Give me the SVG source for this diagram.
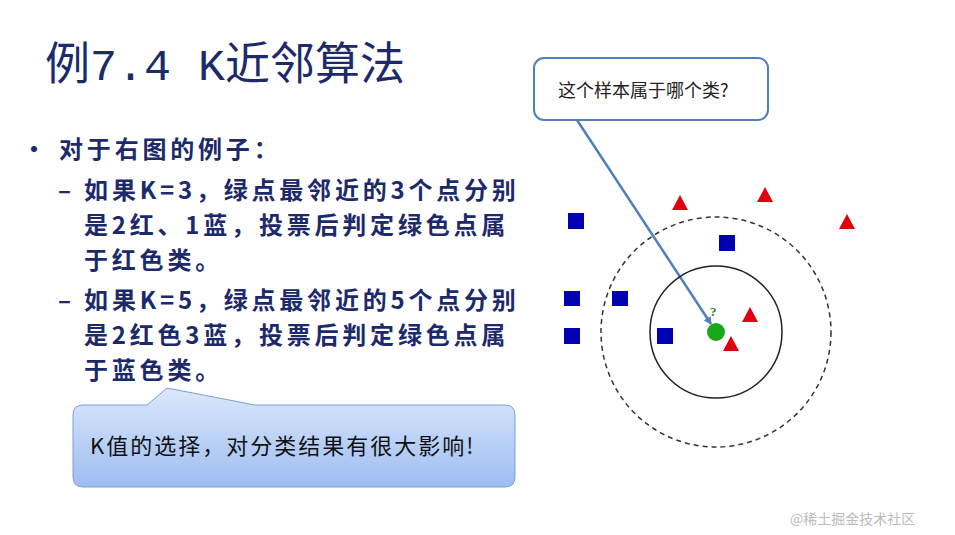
<svg xmlns="http://www.w3.org/2000/svg" width="955" height="535" viewBox="0 0 955 535">
<defs>
<linearGradient id="g" x1="0" y1="0" x2="0" y2="1"><stop offset="0" stop-color="#dce8fb"/><stop offset="1" stop-color="#9dbdf2"/></linearGradient>
<marker id="ah" markerWidth="8" markerHeight="8" refX="7" refY="4" orient="auto" markerUnits="userSpaceOnUse" viewBox="0 0 8 8"><path d="M0,0 L8,4 L0,8 z" fill="#4f7fbf"/></marker>
<style>
.t{font-family:"Noto Sans CJK SC","Liberation Sans",sans-serif;fill:#1c2a6b;font-weight:bold;font-size:24px;letter-spacing:3.8px}
.sq{fill:#0000b0}
.tr{fill:#e00010}
</style>
</defs>
<rect width="955" height="535" fill="#fff"/>
<text x="45" y="80" font-family="'Liberation Mono','Noto Sans CJK SC',monospace" font-size="45" fill="#1c2a6b">例7.4  K近邻算法</text>
<g id="bullets">
<text class="t" x="22" y="158" font-weight="normal">• 对于右图的例子：</text>
<text class="t" x="58" y="199">– 如果K=3，绿点最邻近的3个点分别</text>
<text class="t" x="84" y="234">是2红、1蓝，投票后判定绿色点属</text>
<text class="t" x="84" y="269">于红色类。</text>
<text class="t" x="58" y="309">– 如果K=5，绿点最邻近的5个点分别</text>
<text class="t" x="84" y="344">是2红色3蓝，投票后判定绿色点属</text>
<text class="t" x="84" y="379">于蓝色类。</text>
</g>
<g id="note">
<path d="M88,405 L147,405 L167,388 L255,405 L505,405 Q515,405 515,415 L515,477 Q515,487 505,487 L83,487 Q73,487 73,477 L73,415 Q73,405 83,405 Z" fill="url(#g)" stroke="#7a9fd6" stroke-width="1"/>
<text x="90" y="454" font-family="'Noto Sans CJK SC',sans-serif" font-size="22" letter-spacing="2" fill="#111">K值的选择，对分类结果有很大影响!</text>
</g>
<g id="question">
<rect x="534" y="58" width="234" height="62" rx="10" fill="#fff" stroke="#4f7fbf" stroke-width="2"/>
<text x="558" y="97" font-family="'Noto Sans CJK SC',serif" font-size="18" fill="#222">这个样本属于哪个类?</text>
</g>
<g id="connectors">
<line x1="577" y1="120" x2="711" y2="324" stroke="#4f7fbf" stroke-width="2.5" marker-end="url(#ah)"/>
</g>
<g id="plot">
<circle cx="716" cy="332" r="115" fill="none" stroke="#333" stroke-width="1.5" stroke-dasharray="5,4"/>
<circle cx="716" cy="332" r="66" fill="none" stroke="#222" stroke-width="1.5"/>
<rect class="sq" x="568" y="213" width="16" height="16"/>
<rect class="sq" x="719" y="235" width="16" height="16"/>
<rect class="sq" x="564" y="291" width="16" height="15"/>
<rect class="sq" x="612" y="291" width="16" height="15"/>
<rect class="sq" x="564" y="328" width="16" height="16"/>
<rect class="sq" x="657" y="328" width="16" height="16"/>
<polygon class="tr" points="680,195 688,210 672,210"/>
<polygon class="tr" points="765,187 773,202 757,202"/>
<polygon class="tr" points="847,214 855,229 839,229"/>
<polygon class="tr" points="750,307 758,322 742,322"/>
<polygon class="tr" points="731,336 739,351 723,351"/>
<circle cx="716" cy="332" r="9" fill="#1aa81a"/>
<text x="710" y="316" font-family="'Liberation Serif',serif" font-size="13" font-weight="bold" fill="#1a8a1a">?</text>
</g>
<text x="790" y="524" font-family="'Noto Sans CJK SC',sans-serif" font-size="14" fill="#bbb">@稀土掘金技术社区</text>
</svg>
